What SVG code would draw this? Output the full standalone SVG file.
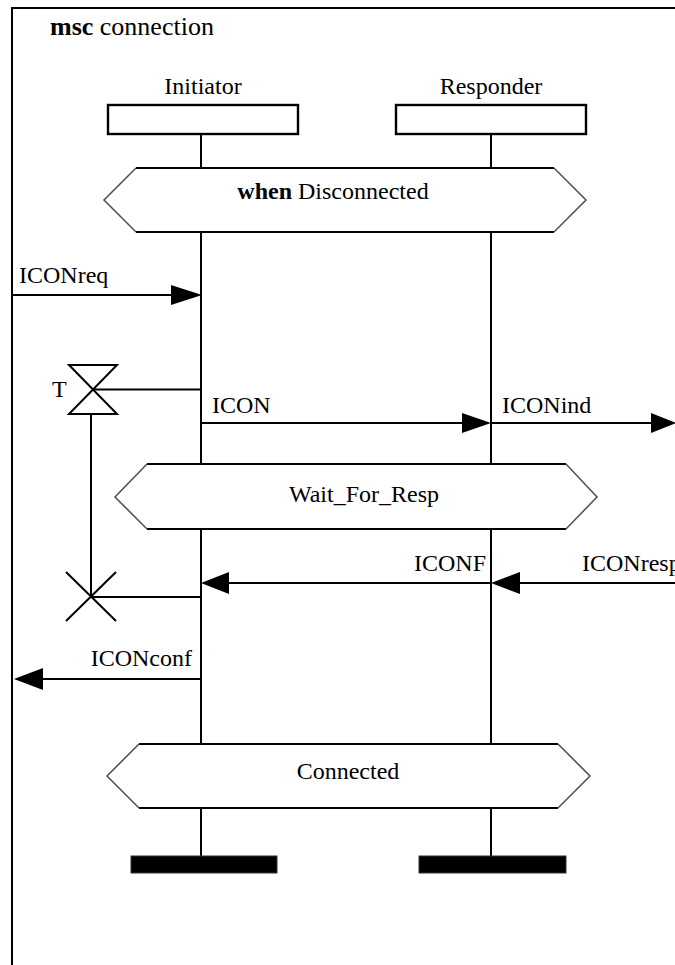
<svg xmlns="http://www.w3.org/2000/svg" width="675" height="965" viewBox="0 0 675 965">
<style>
text{font-family:'Liberation Serif','Tinos','Times New Roman','DejaVu Serif',serif;font-size:24px;fill:#000}
.b{font-weight:bold}
.ln{stroke:#000;stroke-width:2;fill:none}
.edge{stroke:#000;stroke-width:2}
.diag{stroke:#555;stroke-width:1.6;fill:none}
.head{fill:#000;stroke:none}
.box{fill:#fff;stroke:#000;stroke-width:2.4}
.bar{fill:#000;stroke:#333;stroke-width:1}
</style>
<rect width="675" height="965" fill="#fff"/>
<g id="frame" font-family="Liberation Serif, serif">
<path class="ln" d="M680,8 L12,8 L12,970"/>
<text x="50" y="35" style="font-size:26px"><tspan class="b">msc</tspan> connection</text>
</g>
<g id="initiator">
<text x="203" y="94" text-anchor="middle">Initiator</text>
<rect class="box" x="108" y="105" width="190" height="29"/>
</g>
<g id="responder">
<text x="491" y="94" text-anchor="middle">Responder</text>
<rect class="box" x="396" y="105" width="190" height="29"/>
</g>
<g id="lifelines">
<path class="ln" d="M201,134 V168 M201,232 V464 M201,529 V744 M201,808 V856"/>
<path class="ln" d="M491,134 V168 M491,232 V464 M491,529 V744 M491,808 V856"/>
</g>
<g id="cond-disconnected">
<polygon points="136,168 554,168 586,200 554,232 136,232 104,200" fill="#fff" stroke="none"/>
<path class="edge" d="M136,168 H554 M136,232 H554"/>
<path class="diag" d="M136,168 L104,200 L136,232 M554,168 L586,200 L554,232"/>
<text x="333" y="199" text-anchor="middle"><tspan class="b">when</tspan> Disconnected</text>
</g>
<g id="cond-wait">
<polygon points="147,464 566,464 597,497 566,529 147,529 115,497" fill="#fff" stroke="none"/>
<path class="edge" d="M147,464 H566 M147,529 H566"/>
<path class="diag" d="M147,464 L115,497 L147,529 M566,464 L597,497 L566,529"/>
<text x="364" y="502" text-anchor="middle">Wait_For_Resp</text>
</g>
<g id="cond-connected">
<polygon points="139,744 558,744 590,776 558,808 139,808 107,776" fill="#fff" stroke="none"/>
<path class="edge" d="M139,744 H558 M139,808 H558"/>
<path class="diag" d="M139,744 L107,776 L139,808 M558,744 L590,776 L558,808"/>
<text x="348" y="779" text-anchor="middle">Connected</text>
</g>
<g id="timer">
<polygon class="ln" points="69,365 117,365 69,414 117,414"/>
<text x="52" y="397">T</text>
<path class="ln" d="M93,389.5 H201"/>
<path class="ln" d="M91,414 V597"/>
</g>
<g id="timeout">
<path class="ln" d="M66,572 L116,621 M116,572 L66,621"/>
<path class="ln" d="M91,597 H201"/>
</g>
<g id="end-initiator">
<rect class="bar" x="131" y="856" width="146" height="17"/>
</g>
<g id="end-responder">
<rect class="bar" x="419" y="856" width="147" height="17"/>
</g>
<g id="connectors">
<path class="ln" d="M12,295 H175"/>
<polygon class="head" points="171,285 202,295 171,305"/>
<text x="19" y="283">ICONreq</text>
<path class="ln" d="M201,423 H466"/>
<polygon class="head" points="462,413 491,423 462,433"/>
<text x="212" y="413">ICON</text>
<path class="ln" d="M491,423 H655"/>
<polygon class="head" points="651,413 676,423 651,433"/>
<text x="502" y="413">ICONind</text>
<path class="ln" d="M225,583 H491"/>
<polygon class="head" points="229,572 201,583 229,594"/>
<text x="486" y="571" text-anchor="end">ICONF</text>
<path class="ln" d="M516,583 H676"/>
<polygon class="head" points="520,572 491,583 520,594"/>
<text x="582" y="571">ICONresp</text>
<path class="ln" d="M39,679 H201"/>
<polygon class="head" points="43,668 14,679 43,690"/>
<text x="192" y="666" text-anchor="end">ICONconf</text>
</g>
</svg>
